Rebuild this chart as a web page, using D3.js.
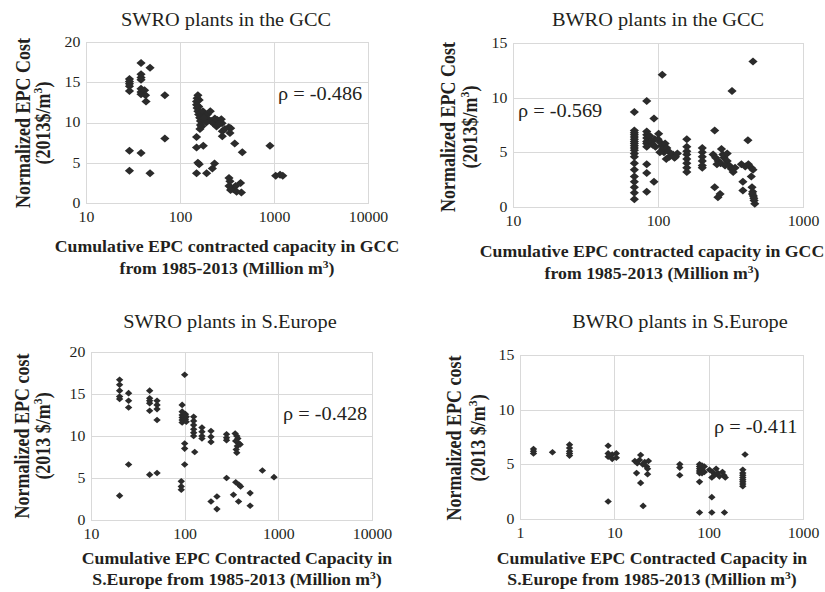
<!DOCTYPE html>
<html>
<head>
<meta charset="utf-8">
<script src="https://cdn.jsdelivr.net/npm/d3@7"></script>
<style>
  body { margin: 0; background: #fff; }
  svg { display: block; }
</style>
</head>
<body>
<svg id="chart" width="825" height="592"></svg>
<script>
// [capacity (Million m3), normalized EPC cost]
const swroGcc = [
  [29, 15.4], [29, 15.1], [29, 14.8], [29, 14.5], [29, 13.9], [29, 6.5], [29, 4.0],
  [38.5, 17.4], [38.5, 16.0], [38.5, 15.6], [38.5, 15.3], [38.5, 14.2], [38.5, 13.8], [38.5, 13.5], [38.5, 6.2],
  [42, 14.0], [43, 13.4], [43.5, 12.6], [48, 16.8], [48, 3.7], [69, 13.4], [69, 8.0],
  [155, 13.4], [152, 13.0], [160, 12.8], [150, 12.6], [158, 12.0], [150, 12.2], [152, 11.8], [155, 11.4],
  [158, 11.0], [162, 10.6], [165, 10.2], [165, 9.7], [163, 9.2], [166, 11.2],
  [175, 11.4], [185, 10.9], [195, 11.0], [210, 11.4], [200, 10.4], [215, 10.2], [225, 9.9], [235, 10.5],
  [250, 10.3], [245, 9.5], [280, 9.9], [282, 8.9], [282, 8.3], [275, 10.4], [330, 9.4], [346, 9.3],
  [340, 8.7], [300, 9.2], [260, 9.8], [190, 10.0], [180, 10.6], [170, 9.5],
  [150, 8.2], [150, 6.9], [177, 7.1], [382, 7.4], [460, 6.3], [906, 7.1],
  [155, 5.0], [160, 4.8], [150, 3.7], [192, 3.7], [221, 4.3], [233, 4.9],
  [332, 3.1], [340, 2.7], [350, 1.9], [370, 1.7], [441, 2.5], [450, 1.3], [390, 2.1], [332, 2.1], [345, 1.6], [400, 1.4],
  [1042, 3.4], [1160, 3.5], [1240, 3.4]
];

const bwroGcc = [
  [68.7, 8.7], [68.7, 7.0], [68.7, 6.8], [68.7, 6.6], [68.7, 6.4], [68.7, 6.2], [68.7, 6.0], [68.7, 5.8],
  [68.7, 5.6], [68.7, 5.4], [68.7, 5.2], [68.7, 4.9], [68.7, 4.6], [68.7, 4.0], [68.7, 3.4], [68.7, 2.8],
  [68.7, 2.3], [68.7, 1.8], [68.7, 1.3], [68.7, 0.7],
  [83.6, 9.7], [83.6, 6.9], [83.6, 6.6], [83.6, 6.3], [83.6, 6.0], [83.6, 5.8], [83.6, 5.5], [83.6, 3.9], [83.6, 3.1], [83.6, 1.4],
  [88, 6.5], [90, 6.0], [92, 5.7], [93.8, 8.1], [93.8, 2.3], [95, 6.2], [96, 5.5],
  [101, 6.7], [100, 6.2], [104, 5.9], [106, 5.6], [108, 5.3], [110, 5.0], [112, 5.8], [115, 5.4], [118, 5.1],
  [120, 4.6], [107, 12.1], [103, 5.0], [114, 4.4],
  [127, 4.8], [132, 4.6], [136, 4.9], [130, 4.5],
  [158, 6.2], [158, 5.5], [158, 5.1], [158, 4.8], [158, 4.4], [158, 4.0], [158, 3.6], [158, 3.2],
  [202, 5.4], [202, 5.0], [202, 4.6], [202, 4.2], [202, 3.8], [202, 3.6],
  [246, 7.0], [274, 5.3], [240, 4.8], [250, 4.5], [260, 4.2], [270, 4.0], [285, 4.5], [300, 4.2], [310, 3.8],
  [320, 3.5], [330, 3.2], [340, 3.6], [290, 3.8], [255, 3.9], [280, 4.8], [324, 10.6], [300, 4.9],
  [246, 1.8], [259, 0.9], [268, 1.2],
  [376, 3.9], [400, 3.7], [420, 3.9], [440, 3.6], [452, 3.4], [385, 2.3], [385, 1.5], [440, 2.8], [417, 6.1],
  [452, 13.3], [445, 1.8], [450, 1.4], [455, 1.0], [460, 0.6], [465, 0.3], [448, 1.2], [458, 0.8]
];

const swroEurope = [
  [20.2, 16.7], [20.2, 16.1], [20.2, 15.4], [20.2, 14.7], [20.2, 14.4], [20.2, 2.9],
  [25.2, 15.1], [25.2, 14.2], [25.2, 13.4], [25.2, 6.6],
  [42.3, 15.4], [42.3, 14.5], [42.3, 14.2], [42.3, 13.9], [42.3, 13.0], [42.3, 5.4],
  [50.7, 14.2], [50.7, 13.7], [50.7, 13.2], [50.7, 11.9], [50.7, 5.6],
  [94, 13.7], [94, 12.9], [94, 12.5], [94, 12.2], [94, 11.9], [94, 11.6], [92, 4.6], [92, 4.0], [92, 3.6],
  [100, 17.3], [102, 12.6], [104, 12.3], [102, 12.0], [104, 11.7], [100, 9.1], [100, 8.5], [100, 6.6],
  [124.7, 12.3], [124.7, 11.8], [124.7, 11.3], [124.7, 10.8], [124.7, 10.4], [124.7, 10.0], [128, 8.1],
  [153, 11.0], [153, 10.5], [153, 10.0], [153, 9.7],
  [191, 10.6], [191, 9.9], [191, 9.3], [191, 2.2],
  [221, 2.8], [221, 1.3],
  [280, 10.2], [280, 9.8], [280, 9.5], [280, 5.0],
  [346, 10.3], [360, 10.0], [370, 9.7], [350, 9.4], [380, 9.1], [365, 8.8], [355, 8.4], [360, 8.0], [391, 9.0],
  [351, 4.5], [380, 4.2], [395, 4.0], [332, 3.0], [376, 2.2], [500, 3.2], [500, 1.7], [676, 5.9], [899, 5.1]
];

const bwroEurope = [
  [1.39, 6.4], [1.39, 6.2], [1.39, 6.0], [2.21, 6.1],
  [3.35, 6.8], [3.35, 6.5], [3.35, 6.2], [3.35, 6.0], [3.35, 5.8],
  [8.6, 6.7], [8.6, 6.0], [8.6, 5.7], [8.6, 1.6], [9.5, 5.9], [9.5, 5.5], [10.5, 6.0], [10.5, 5.6],
  [19.0, 5.85], [16.5, 5.3], [17.5, 5.1], [18.5, 5.4], [20, 5.0], [21, 5.2], [22, 4.8], [22.5, 4.6],
  [17.2, 4.2], [22.5, 4.1], [19, 3.3], [20.2, 1.2], [23, 5.3],
  [49.4, 5.0], [49.4, 4.7], [49.4, 4.0],
  [80, 5.0], [80, 4.8], [80, 4.6], [80, 4.4], [80, 4.2], [85, 4.9], [85, 4.5], [85, 4.2], [90, 4.8], [90, 4.3],
  [80, 3.4], [80, 0.6],
  [102, 4.5], [110, 4.3], [115, 4.0], [120, 4.6], [125, 4.2], [130, 3.9], [140, 4.3], [150, 3.8], [145, 4.0], [108, 3.8],
  [108, 2.0], [108, 0.6], [147, 0.6],
  [230, 4.5], [230, 4.2], [230, 4.0], [230, 3.8], [230, 3.6], [230, 3.4], [230, 3.2], [230, 3.0], [243, 5.9]
];

const xTicksWide = [10, 100, 1000, 10000];
const xTicksGccBwro = [10, 100, 1000];
const xTicksEuBwro = [1, 10, 100, 1000];
const yTicks20 = [0, 5, 10, 15, 20];
const yTicks15 = [0, 5, 10, 15];

const titles = ["SWRO plants in the GCC", "BWRO plants in the GCC", "SWRO plants in S.Europe", "BWRO plants in S.Europe"];
const rhoLabels = ["\u03c1 = -0.486", "\u03c1 = -0.569", "\u03c1 = -0.428", "\u03c1 = -0.411"];

const FONT = "Liberation Serif, Times New Roman, serif";
const INK = "#231f20";
const SX = 1.13; // the source figure is a bit stretched sideways
const svg = d3.select("#chart").attr("font-family", FONT);
svg.append("rect").attr("width", 825).attr("height", 592).attr("fill", "#fff");

// write text, optionally with superscript parts, stretched horizontally
function label(x, y, parts, size, opts) {
  opts = opts || {};
  let tr = `translate(${x},${y}) scale(${SX},1)`;
  if (opts.rotate) tr += " rotate(-90)";
  const t = svg.append("text")
    .attr("transform", tr)
    .attr("font-family", FONT)
    .attr("fill", INK)
    .attr("text-anchor", opts.anchor || "middle")
    .attr("font-size", size)
    .attr("font-weight", opts.bold ? "bold" : "normal");
  if (typeof parts == "string") parts = [parts];
  let shift = 0;
  parts.forEach(p => {
    if (typeof p == "string") {
      t.append("tspan").attr("dy", shift).text(p);
      shift = 0;
    } else {
      t.append("tspan").attr("font-size", size * 0.65).attr("dy", -size * 0.38).text(p.sup);
      shift = size * 0.38;
    }
  });
  return t;
}

const panels = [
  { data: swroGcc, box: [86, 42, 368, 203], xDom: [10, 10000], xTicks: xTicksWide, yDom: [0, 20], yTicks: yTicks20,
    title: titles[0], titlePos: [226, 26], rho: rhoLabels[0], rhoPos: [278, 100],
    xTitle: ["Cumulative EPC contracted capacity in GCC", ["from 1985-2013 (Million m", {sup: "3"}, ")"]], xTitlePos: [227, 252, 274],
    yTitle: ["Normalized EPC Cost", ["(2013$/m", {sup: "3"}, ")"]], yTitlePos: [30, 50, 123], r: [4.6, 4.0] },
  { data: bwroGcc, box: [513, 43, 803, 207], xDom: [10, 1000], xTicks: xTicksGccBwro, yDom: [0, 15], yTicks: yTicks15,
    title: titles[1], titlePos: [658, 26], rho: rhoLabels[1], rhoPos: [518, 117],
    xTitle: ["Cumulative EPC contracted capacity in GCC", ["from 1985-2013 (Million m", {sup: "3"}, ")"]], xTitlePos: [652, 257, 279],
    yTitle: ["Normalized EPC Cost", ["(2013$/m", {sup: "3"}, ")"]], yTitlePos: [455, 477, 127], r: [4.6, 4.0] },
  { data: swroEurope, box: [91, 352, 372, 520], xDom: [10, 10000], xTicks: xTicksWide, yDom: [0, 20], yTicks: yTicks20,
    title: titles[2], titlePos: [230, 328], rho: rhoLabels[2], rhoPos: [283, 420],
    xTitle: ["Cumulative EPC Contracted Capacity in", ["S.Europe from 1985-2013 (Million m", {sup: "3"}, ")"]], xTitlePos: [237, 564, 585],
    yTitle: ["Normalized EPC cost", ["(2013 $/m", {sup: "3"}, ")"]], yTitlePos: [29, 50, 436], r: [3.7, 3.3] },
  { data: bwroEurope, box: [520, 355, 803, 519], xDom: [1, 1000], xTicks: xTicksEuBwro, yDom: [0, 15], yTicks: yTicks15,
    title: titles[3], titlePos: [680, 328], rho: rhoLabels[3], rhoPos: [714, 433],
    xTitle: ["Cumulative EPC Contracted Capacity in", ["S.Europe from 1985-2013 (Million m", {sup: "3"}, ")"]], xTitlePos: [652, 564, 585],
    yTitle: ["Normalized EPC cost", ["(2013 $/m", {sup: "3"}, ")"]], yTitlePos: [461, 485, 438], r: [3.7, 3.3] }
];

panels.forEach(p => {
  const [x0, y0, x1, y1] = p.box;
  const x = d3.scaleLog().domain(p.xDom).range([x0, x1]);
  const y = d3.scaleLinear().domain(p.yDom).range([y1, y0]);

  // grid
  const grid = svg.append("g").attr("stroke", "#d9d9d9").attr("stroke-width", 1);
  p.yTicks.forEach(v => {
    grid.append("line").attr("x1", x0).attr("x2", x1).attr("y1", Math.round(y(v)) + 0.5).attr("y2", Math.round(y(v)) + 0.5);
  });
  p.xTicks.forEach(v => {
    grid.append("line").attr("x1", Math.round(x(v)) + 0.5).attr("x2", Math.round(x(v)) + 0.5).attr("y1", y0).attr("y2", y1);
  });
  grid.append("rect").attr("x", x0 + 0.5).attr("y", y0 + 0.5).attr("width", x1 - x0).attr("height", y1 - y0).attr("fill", "none");

  // axes (labels only)
  const xa = svg.append("g").attr("transform", `translate(0,${y1})`)
    .call(d3.axisBottom(x).tickValues(p.xTicks).tickFormat(d3.format("d")).tickSize(0).tickPadding(9));
  const ya = svg.append("g").attr("transform", `translate(${x0},0)`)
    .call(d3.axisLeft(y).tickValues(p.yTicks).tickSize(0).tickPadding(5));
  [xa, ya].forEach(a => {
    a.attr("font-family", FONT).attr("font-size", 14);
    a.select(".domain").remove();
    a.selectAll("text").attr("font-family", FONT).attr("font-size", 14).attr("fill", INK)
      .attr("transform", `scale(${SX},1)`);
  });

  // diamonds
  const [rx, ry] = p.r;
  svg.append("g").selectAll("path").data(p.data).join("path")
    .attr("d", d => `M${x(d[0])},${y(d[1]) - ry}L${x(d[0]) + rx},${y(d[1])}L${x(d[0])},${y(d[1]) + ry}L${x(d[0]) - rx},${y(d[1])}Z`)
    .attr("fill", "#2b2b2b");

  label(p.titlePos[0], p.titlePos[1], p.title, 18);
  label(p.rhoPos[0], p.rhoPos[1], p.rho, 18, {anchor: "start"});
  label(p.xTitlePos[0], p.xTitlePos[1], p.xTitle[0], 15.7, {bold: true});
  label(p.xTitlePos[0], p.xTitlePos[2], p.xTitle[1], 15.7, {bold: true});
  label(p.yTitlePos[0], p.yTitlePos[2], p.yTitle[0], 18, {bold: true, rotate: true});
  label(p.yTitlePos[1], p.yTitlePos[2], p.yTitle[1], 18, {bold: true, rotate: true});
});
</script>
</body>
</html>
